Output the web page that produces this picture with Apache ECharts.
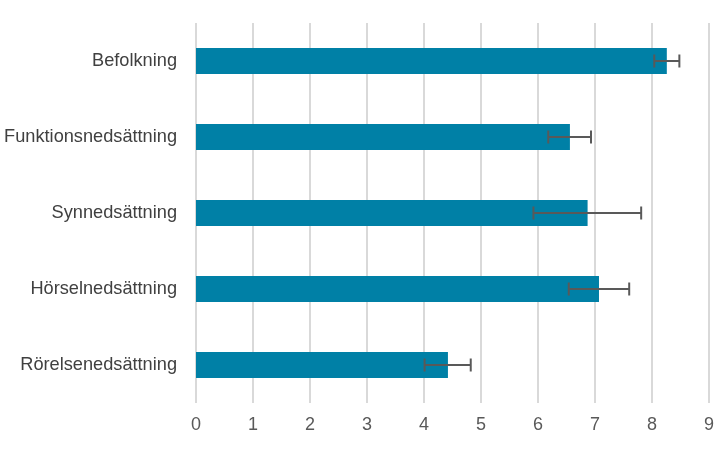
<!DOCTYPE html>
<html>
<head>
<meta charset="utf-8">
<script src="https://cdn.jsdelivr.net/npm/echarts@6/dist/echarts.min.js"></script>
<style>html,body{margin:0;padding:0;background:#fff}#c{width:718px;height:450px}</style>
</head>
<body>
<div id="c"></div>
<script>
const categories = ['Befolkning', 'Funktionsnedsättning', 'Synnedsättning', 'Hörselnedsättning', 'Rörelsenedsättning'];
const values = [8.26, 6.56, 6.87, 7.07, 4.42];
const errLow = [8.04, 6.18, 5.92, 6.54, 4.01];
const errHigh = [8.48, 6.93, 7.81, 7.60, 4.82];
const xTicks = [0, 1, 2, 3, 4, 5, 6, 7, 8, 9];

const chart = echarts.init(document.getElementById('c'));
const errData = categories.map((c, i) => [i, errLow[i], errHigh[i]]);
chart.setOption({
  animation: false,
  grid: { left: 196, right: 9, top: 23, bottom: 47, containLabel: false },
  xAxis: {
    type: 'value', min: xTicks[0], max: xTicks[xTicks.length - 1], interval: 1,
    axisLine: { show: false }, axisTick: { show: false },
    splitLine: { show: true, lineStyle: { color: '#d9d9d9', width: 2 } },
    axisLabel: { color: '#595959', fontSize: 18, fontFamily: 'Liberation Sans, Arial, sans-serif', margin: 13 }
  },
  yAxis: {
    type: 'category', data: categories, inverse: true,
    axisLine: { show: false }, axisTick: { show: false },
    axisLabel: { color: '#404040', fontSize: 18.2, fontFamily: 'Liberation Sans, Arial, sans-serif', margin: 19, padding: [2, 0, 0, 0] }
  },
  series: [
    {
      type: 'bar', data: values, barWidth: 26,
      itemStyle: { color: '#0080A6' }, z: 2
    },
    {
      type: 'custom', z: 3,
      data: errData,
      encode: { y: 0, x: [1, 2] },
      renderItem: function (params, api) {
        const idx = api.value(0);
        const lo = api.coord([api.value(1), idx]);
        const hi = api.coord([api.value(2), idx]);
        const h = 6.5;
        const style = { stroke: '#595959', lineWidth: 2, fill: null };
        return {
          type: 'group',
          children: [
            { type: 'line', shape: { x1: lo[0], y1: lo[1], x2: hi[0], y2: hi[1] }, style: style },
            { type: 'line', shape: { x1: lo[0], y1: lo[1] - h, x2: lo[0], y2: lo[1] + h }, style: style },
            { type: 'line', shape: { x1: hi[0], y1: hi[1] - h, x2: hi[0], y2: hi[1] + h }, style: style }
          ]
        };
      }
    }
  ]
});
</script>
</body>
</html>
